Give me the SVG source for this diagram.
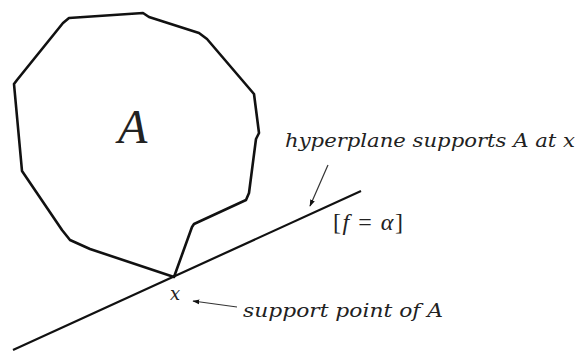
<svg xmlns="http://www.w3.org/2000/svg" width="578" height="351" viewBox="0 0 578 351">
<defs>
<marker id="ah" viewBox="0 0 10 10" refX="9" refY="5" markerWidth="7" markerHeight="7" orient="auto" markerUnits="userSpaceOnUse">
<path d="M0,1.5 L10,5 L0,8.5 z" fill="#111"/>
</marker>
<style>
.shape{fill:none;stroke:#111;stroke-width:2.6;stroke-linejoin:round}
.line{fill:none;stroke:#111;stroke-width:2.2}
.arr{fill:none;stroke:#333;stroke-width:1.2}
.lab{font-family:"DejaVu Serif","Liberation Serif",serif;font-style:italic;fill:#222}
.m{font-family:"Liberation Serif","DejaVu Serif",serif;fill:#222}
</style>
</defs>
<rect width="578" height="351" fill="#fff"/>
<g id="setA">
<polygon class="shape" points="69,18 143,13 149,17 199,33 207,39 254,94 259,133 256,139 249,193 246,200 194,224 192,227 174,277 90,249 70,240 62,230 22,171 14,84 17,80 63,23"/>
<text class="m" x="118" y="143" font-size="48" font-style="italic">A</text>
</g>
<g id="hyperplane">
<line class="line" x1="13" y1="350" x2="361" y2="191"/>
<text class="m" x="333" y="230" font-size="24" textLength="70" lengthAdjust="spacing">[<tspan font-style="italic">f</tspan> = <tspan font-style="italic">α</tspan>]</text>
</g>
<g id="label-hyperplane">
<text class="lab" x="285" y="147" font-size="19" textLength="290" lengthAdjust="spacingAndGlyphs">hyperplane supports A at x</text>
</g>
<g id="point-x">
<text class="lab" x="170" y="300" font-size="18">x</text>
</g>
<g id="label-support">
<text class="lab" x="243" y="317" font-size="19" textLength="200" lengthAdjust="spacingAndGlyphs">support point of A</text>
</g>
<g id="connectors">
<line class="arr" x1="328" y1="165" x2="310" y2="206" marker-end="url(#ah)"/>
<line class="arr" x1="237" y1="307" x2="193" y2="301" marker-end="url(#ah)"/>
</g>
</svg>
